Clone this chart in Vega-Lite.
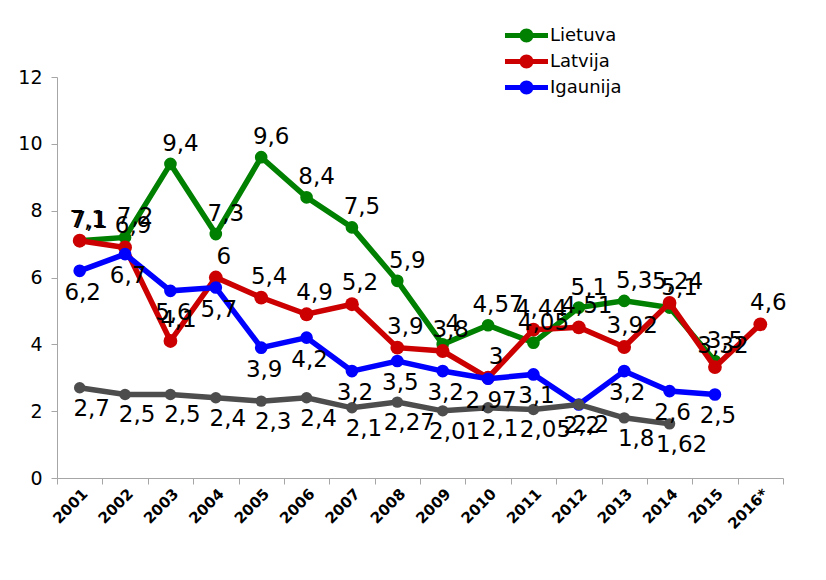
{
  "$schema": "https://vega.github.io/schema/vega-lite/v6.json",
  "width": 726,
  "height": 401,
  "autosize": {"type": "none"},
  "padding": {"left": 57, "top": 77, "right": 43, "bottom": 102},
  "background": "white",
  "config": {
    "view": {"stroke": null},
    "font": "DejaVu Sans",
    "locale": {"number": {"decimal": ",", "thousands": " ", "grouping": [3], "currency": ["", ""]}}
  },
  "data": {
    "values": [
      {"year": "2001", "country": "Lietuva", "value": 7.1},
      {"year": "2002", "country": "Lietuva", "value": 7.2},
      {"year": "2003", "country": "Lietuva", "value": 9.4},
      {"year": "2004", "country": "Lietuva", "value": 7.3},
      {"year": "2005", "country": "Lietuva", "value": 9.6},
      {"year": "2006", "country": "Lietuva", "value": 8.4},
      {"year": "2007", "country": "Lietuva", "value": 7.5},
      {"year": "2008", "country": "Lietuva", "value": 5.9},
      {"year": "2009", "country": "Lietuva", "value": 4},
      {"year": "2010", "country": "Lietuva", "value": 4.57},
      {"year": "2011", "country": "Lietuva", "value": 4.05},
      {"year": "2012", "country": "Lietuva", "value": 5.1},
      {"year": "2013", "country": "Lietuva", "value": 5.3},
      {"year": "2014", "country": "Lietuva", "value": 5.1},
      {"year": "2015", "country": "Lietuva", "value": 3.5},
      {"year": "2001", "country": "Latvija", "value": 7.1},
      {"year": "2002", "country": "Latvija", "value": 6.9},
      {"year": "2003", "country": "Latvija", "value": 4.1},
      {"year": "2004", "country": "Latvija", "value": 6},
      {"year": "2005", "country": "Latvija", "value": 5.4},
      {"year": "2006", "country": "Latvija", "value": 4.9},
      {"year": "2007", "country": "Latvija", "value": 5.2},
      {"year": "2008", "country": "Latvija", "value": 3.9},
      {"year": "2009", "country": "Latvija", "value": 3.8},
      {"year": "2010", "country": "Latvija", "value": 3},
      {"year": "2011", "country": "Latvija", "value": 4.44},
      {"year": "2012", "country": "Latvija", "value": 4.51},
      {"year": "2013", "country": "Latvija", "value": 3.92},
      {"year": "2014", "country": "Latvija", "value": 5.24},
      {"year": "2015", "country": "Latvija", "value": 3.32},
      {"year": "2016*", "country": "Latvija", "value": 4.6},
      {"year": "2001", "country": "Igaunija", "value": 6.2},
      {"year": "2002", "country": "Igaunija", "value": 6.7},
      {"year": "2003", "country": "Igaunija", "value": 5.6},
      {"year": "2004", "country": "Igaunija", "value": 5.7},
      {"year": "2005", "country": "Igaunija", "value": 3.9},
      {"year": "2006", "country": "Igaunija", "value": 4.2},
      {"year": "2007", "country": "Igaunija", "value": 3.2},
      {"year": "2008", "country": "Igaunija", "value": 3.5},
      {"year": "2009", "country": "Igaunija", "value": 3.2},
      {"year": "2010", "country": "Igaunija", "value": 2.97},
      {"year": "2011", "country": "Igaunija", "value": 3.1},
      {"year": "2012", "country": "Igaunija", "value": 2.2},
      {"year": "2013", "country": "Igaunija", "value": 3.2},
      {"year": "2014", "country": "Igaunija", "value": 2.6},
      {"year": "2015", "country": "Igaunija", "value": 2.5},
      {"year": "2001", "country": "Kita", "value": 2.7},
      {"year": "2002", "country": "Kita", "value": 2.5},
      {"year": "2003", "country": "Kita", "value": 2.5},
      {"year": "2004", "country": "Kita", "value": 2.4},
      {"year": "2005", "country": "Kita", "value": 2.3},
      {"year": "2006", "country": "Kita", "value": 2.4},
      {"year": "2007", "country": "Kita", "value": 2.1},
      {"year": "2008", "country": "Kita", "value": 2.27},
      {"year": "2009", "country": "Kita", "value": 2.01},
      {"year": "2010", "country": "Kita", "value": 2.1},
      {"year": "2011", "country": "Kita", "value": 2.05},
      {"year": "2012", "country": "Kita", "value": 2.2},
      {"year": "2013", "country": "Kita", "value": 1.8},
      {"year": "2014", "country": "Kita", "value": 1.62}
    ]
  },
  "encoding": {
    "x": {
      "field": "year", "type": "nominal",
      "scale": {"type": "band", "paddingInner": 0, "paddingOuter": 0},
      "axis": {
        "title": null, "labelAngle": -45, "labelFontSize": 15, "labelFontWeight": "bold",
        "labelColor": "#000", "tickBand": "extent", "tickSize": 6, "tickColor": "#a6a6a6",
        "domainColor": "#a6a6a6", "labelPadding": 2, "grid": false
      }
    },
    "y": {
      "field": "value", "type": "quantitative",
      "scale": {"domain": [0, 12], "nice": false},
      "axis": {
        "title": null, "values": [0, 2, 4, 6, 8, 10, 12], "grid": false,
        "labelFontSize": 19, "labelColor": "#000", "labelPadding": 9,
        "tickSize": 6, "tickColor": "#a6a6a6", "domainColor": "#a6a6a6"
      }
    }
  },
  "layer": [
    {
      "transform": [{"filter": "datum.country === 'Lietuva'"}],
      "mark": {"type": "line", "strokeWidth": 5.5},
      "encoding": {
        "color": {
          "field": "country", "type": "nominal",
          "scale": {"domain": ["Lietuva", "Latvija", "Igaunija"], "range": ["#008000", "#cc0000", "#0000ff"]},
          "legend": {
            "orient": "none", "legendX": 456, "legendY": -55, "title": null,
            "symbolType": "M-1.6,-0.19L1.6,-0.19L1.6,0.19L-1.6,0.19Z M-0.52,0A0.52,0.52 0 1 1 0.52,0A0.52,0.52 0 1 1 -0.52,0Z",
            "symbolSize": 723, "symbolStrokeWidth": 0, "labelFontSize": 18, "labelOffset": 10,
            "rowPadding": 3, "padding": 0, "labelColor": "#000",
            "encode": {"symbols": {"update": {"fill": {"scale": "color", "field": "value"}, "opacity": {"value": 1}}}}
          }
        }
      }
    },
    {
      "transform": [{"filter": "datum.country === 'Lietuva'"}],
      "mark": {"type": "point", "filled": true, "size": 160, "opacity": 1},
      "encoding": {"color": {"field": "country", "type": "nominal"}}
    },
    {
      "transform": [{"filter": "datum.country === 'Latvija'"}],
      "mark": {"type": "line", "strokeWidth": 5.5},
      "encoding": {"color": {"field": "country", "type": "nominal"}}
    },
    {
      "transform": [{"filter": "datum.country === 'Latvija'"}],
      "mark": {"type": "point", "filled": true, "size": 190, "opacity": 1},
      "encoding": {"color": {"field": "country", "type": "nominal"}}
    },
    {
      "transform": [{"filter": "datum.country === 'Igaunija'"}],
      "mark": {"type": "line", "strokeWidth": 5.5},
      "encoding": {"color": {"field": "country", "type": "nominal"}}
    },
    {
      "transform": [{"filter": "datum.country === 'Igaunija'"}],
      "mark": {"type": "point", "filled": true, "size": 160, "opacity": 1},
      "encoding": {"color": {"field": "country", "type": "nominal"}}
    },
    {
      "transform": [{"filter": "datum.country === 'Kita'"}],
      "mark": {"type": "line", "strokeWidth": 5.5, "color": "#4d4d4d"},
      "encoding": {}
    },
    {
      "transform": [{"filter": "datum.country === 'Kita'"}],
      "mark": {"type": "point", "filled": true, "size": 130, "opacity": 1, "color": "#4d4d4d"},
      "encoding": {}
    },
    {
      "transform": [{"filter": "datum.country === 'Lietuva'"}],
      "mark": {"type": "text", "fontSize": 23, "dy": -20, "dx": 10, "color": "#000"},
      "encoding": {"text": {"field": "value", "type": "quantitative", "format": ".3~r"}}
    },
    {
      "transform": [{"filter": "datum.country === 'Latvija'"}],
      "mark": {"type": "text", "fontSize": 23, "dy": -21, "dx": 8, "color": "#000"},
      "encoding": {"text": {"field": "value", "type": "quantitative", "format": ".3~r"}}
    },
    {
      "transform": [{"filter": "datum.country === 'Igaunija'"}],
      "mark": {"type": "text", "fontSize": 23, "dy": 22, "dx": 3, "color": "#000"},
      "encoding": {"text": {"field": "value", "type": "quantitative", "format": ".3~r"}}
    },
    {
      "transform": [{"filter": "datum.country === 'Kita'"}],
      "mark": {"type": "text", "fontSize": 23, "dy": 21, "dx": 12, "color": "#000"},
      "encoding": {"text": {"field": "value", "type": "quantitative", "format": ".3~r"}}
    }
  ]
}
